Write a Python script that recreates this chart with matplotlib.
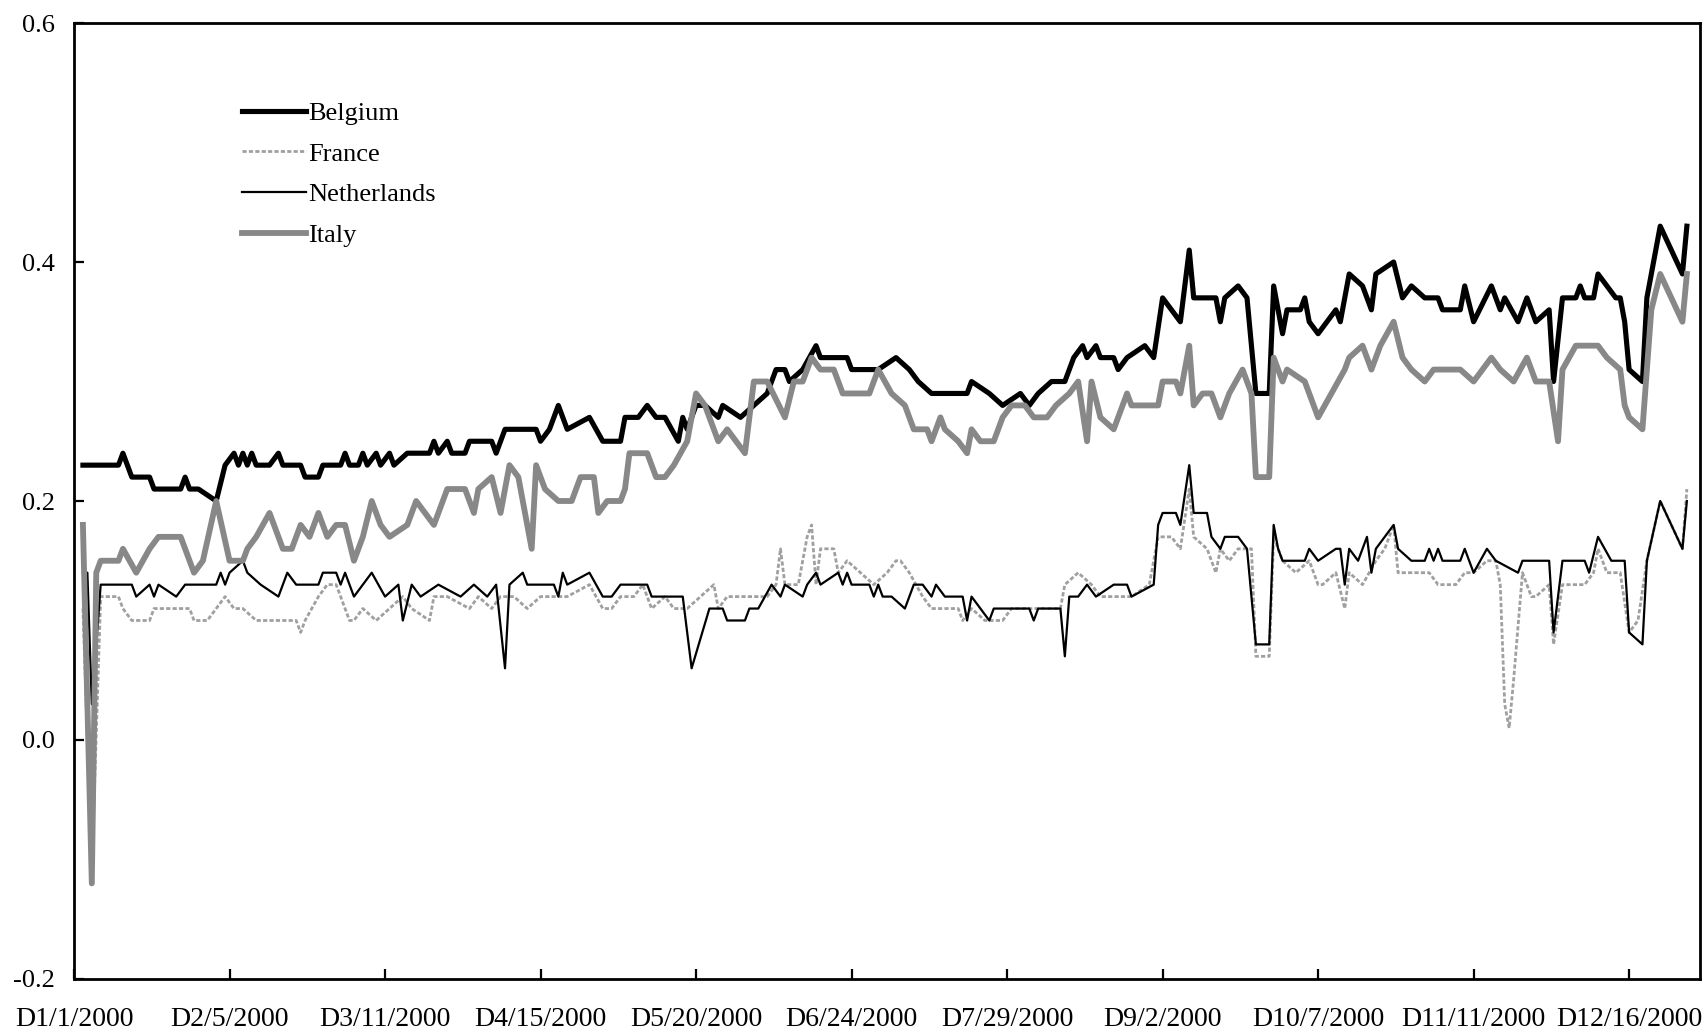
import numpy as np
import pandas as pd
import matplotlib
matplotlib.use('Agg')
import matplotlib.pyplot as plt

plt.rcParams['font.family'] = ['Liberation Serif', 'DejaVu Serif']

# day offsets from 1 Jan 2000 and values
be_day = [2, 10, 11, 13, 17, 18, 24, 25, 26, 28, 32, 34, 36, 37, 38, 39, 40, 41, 44, 46, 47, 51, 52, 55, 56, 60, 61, 62,
          64, 65, 66, 68, 69, 71, 72, 75, 80, 81, 82, 84, 85, 88, 89, 94, 95, 97, 104, 105, 107, 109, 111, 116, 119, 123, 124,
          127, 129, 131, 133, 136, 137, 138, 140, 142, 145, 146, 150, 153, 156, 158, 160, 161, 164, 167, 168, 174, 175, 181, 185,
          188, 190, 193, 201, 202, 206, 209, 213, 215, 217, 220, 223, 225, 227, 228, 230, 231, 234, 235, 237, 241, 243, 245, 247,
          249, 251, 252, 257, 258, 259, 262, 264, 266, 269, 270, 272, 273, 276, 277, 278, 280, 284, 285, 287, 290, 292, 293, 297,
          299, 301, 304, 307, 308, 312, 313, 315, 319, 321, 322, 325, 327, 329, 332, 333, 335, 338, 339, 340, 342, 343, 347, 348,
          349, 350, 353, 354, 357, 362, 363]
be_val = [0.23, 0.23, 0.24, 0.22, 0.22, 0.21, 0.21, 0.22, 0.21, 0.21, 0.20, 0.23, 0.24, 0.23, 0.24, 0.23, 0.24, 0.23, 0.23, 0.24, 0.23, 0.23, 0.22, 0.22, 0.23, 0.23, 0.24, 0.23,
          0.23, 0.24, 0.23, 0.24, 0.23, 0.24, 0.23, 0.24, 0.24, 0.25, 0.24, 0.25, 0.24, 0.24, 0.25, 0.25, 0.24, 0.26, 0.26, 0.25, 0.26, 0.28, 0.26, 0.27, 0.25, 0.25, 0.27,
          0.27, 0.28, 0.27, 0.27, 0.25, 0.27, 0.26, 0.28, 0.28, 0.27, 0.28, 0.27, 0.28, 0.29, 0.31, 0.31, 0.30, 0.31, 0.33, 0.32, 0.32, 0.31, 0.31, 0.32,
          0.31, 0.30, 0.29, 0.29, 0.30, 0.29, 0.28, 0.29, 0.28, 0.29, 0.30, 0.30, 0.32, 0.33, 0.32, 0.33, 0.32, 0.32, 0.31, 0.32, 0.33, 0.32, 0.37, 0.36,
          0.35, 0.41, 0.37, 0.37, 0.35, 0.37, 0.38, 0.37, 0.29, 0.29, 0.38, 0.34, 0.36, 0.36, 0.37, 0.35, 0.34, 0.36, 0.35, 0.39, 0.38, 0.36, 0.39, 0.40,
          0.37, 0.38, 0.37, 0.37, 0.36, 0.36, 0.38, 0.35, 0.38, 0.36, 0.37, 0.35, 0.37, 0.35, 0.36, 0.30, 0.37, 0.37, 0.38, 0.37, 0.37, 0.39, 0.37, 0.37,
          0.35, 0.31, 0.30, 0.37, 0.43, 0.39, 0.43]

fr_day = [2, 4, 6, 10, 11, 13, 17, 18, 26, 27, 30, 32, 34, 36, 38, 41, 50, 51, 52, 55, 57, 59, 60, 62, 63, 65, 68, 71, 74, 76,
          80, 81, 84, 89, 91, 94, 96, 99, 102, 105, 108, 111, 116, 119, 121, 123, 126, 128, 130, 133, 135, 138, 141, 144, 145, 147,
          156, 158, 159, 160, 163, 165, 166, 167, 168, 171, 172, 174, 177, 180, 183, 185, 186, 188, 191, 193, 199, 200, 202, 205,
          209, 211, 222, 223, 226, 229, 231, 238, 242, 244, 247, 249, 251, 252, 255, 257, 258, 260, 262, 265, 266, 269, 270, 272,
          275, 278, 280, 281, 284, 286, 287, 290, 293, 295, 297, 298, 302, 305, 307, 311, 313, 315, 318, 320, 321, 322, 323, 324,
          326, 328, 329, 332, 333, 335, 340, 342, 343, 345, 348, 350, 352, 354, 357, 362, 363]
fr_val = [0.11, -0.11, 0.12, 0.12, 0.11, 0.10, 0.10, 0.11, 0.11, 0.10, 0.10, 0.11, 0.12, 0.11, 0.11, 0.10, 0.10, 0.09, 0.10, 0.12, 0.13, 0.13, 0.12, 0.10, 0.10, 0.11, 0.10, 0.11, 0.12, 0.11,
          0.10, 0.12, 0.12, 0.11, 0.12, 0.11, 0.12, 0.12, 0.11, 0.12, 0.12, 0.12, 0.13, 0.11, 0.11, 0.12, 0.12, 0.13, 0.11, 0.12, 0.11, 0.11, 0.12, 0.13, 0.11, 0.12,
          0.12, 0.13, 0.16, 0.13, 0.13, 0.17, 0.18, 0.13, 0.16, 0.16, 0.14, 0.15, 0.14, 0.13, 0.14, 0.15, 0.15, 0.14, 0.12, 0.11, 0.11, 0.10, 0.11, 0.10,
          0.10, 0.11, 0.11, 0.13, 0.14, 0.13, 0.12, 0.12, 0.13, 0.17, 0.17, 0.16, 0.21, 0.17, 0.16, 0.14, 0.16, 0.15, 0.16, 0.16, 0.07, 0.07, 0.17, 0.15,
          0.14, 0.15, 0.13, 0.13, 0.14, 0.11, 0.14, 0.13, 0.15, 0.16, 0.18, 0.14, 0.14, 0.14, 0.13, 0.13, 0.14, 0.14, 0.15, 0.15, 0.13, 0.03, 0.01, 0.05,
          0.14, 0.12, 0.12, 0.13, 0.08, 0.13, 0.13, 0.14, 0.16, 0.14, 0.14, 0.09, 0.10, 0.15, 0.20, 0.16, 0.21]

nl_day = [2, 3, 4, 6, 13, 14, 17, 18, 19, 23, 25, 32, 33, 34, 35, 38, 39, 42, 46, 48, 50, 55, 56, 59, 60, 61, 63, 67, 70, 73,
          74, 76, 78, 82, 87, 90, 93, 95, 97, 98, 101, 102, 108, 109, 110, 111, 116, 119, 121, 123, 129, 130, 137, 139, 143, 146,
          147, 151, 152, 154, 157, 159, 160, 164, 165, 167, 168, 172, 173, 174, 175, 179, 180, 181, 182, 184, 187, 189, 191, 193,
          194, 196, 200, 201, 202, 204, 206, 207, 215, 216, 217, 222, 223, 224, 226, 228, 230, 234, 237, 238, 243, 244, 245, 248,
          249, 251, 252, 255, 256, 258, 259, 262, 264, 266, 269, 270, 271, 272, 277, 278, 280, 284, 285, 286, 287, 289, 291, 292,
          293, 297, 298, 301, 304, 305, 306, 307, 308, 312, 313, 315, 318, 320, 325, 326, 332, 333, 335, 340, 341, 343, 346, 349,
          350, 353, 354, 357, 362, 363]
nl_val = [0.14, 0.14, 0.03, 0.13, 0.13, 0.12, 0.13, 0.12, 0.13, 0.12, 0.13, 0.13, 0.14, 0.13, 0.14, 0.15, 0.14, 0.13, 0.12, 0.14, 0.13, 0.13, 0.14, 0.14, 0.13, 0.14, 0.12, 0.14, 0.12, 0.13,
          0.10, 0.13, 0.12, 0.13, 0.12, 0.13, 0.12, 0.13, 0.06, 0.13, 0.14, 0.13, 0.13, 0.12, 0.14, 0.13, 0.14, 0.12, 0.12, 0.13, 0.13, 0.12, 0.12, 0.06, 0.11, 0.11,
          0.10, 0.10, 0.11, 0.11, 0.13, 0.12, 0.13, 0.12, 0.13, 0.14, 0.13, 0.14, 0.13, 0.14, 0.13, 0.13, 0.12, 0.13, 0.12, 0.12, 0.11, 0.13, 0.13, 0.12,
          0.13, 0.12, 0.12, 0.10, 0.12, 0.11, 0.10, 0.11, 0.11, 0.10, 0.11, 0.11, 0.07, 0.12, 0.12, 0.13, 0.12, 0.13, 0.13, 0.12, 0.13, 0.18, 0.19, 0.19,
          0.18, 0.23, 0.19, 0.19, 0.17, 0.16, 0.17, 0.17, 0.16, 0.08, 0.08, 0.18, 0.16, 0.15, 0.15, 0.16, 0.15, 0.16, 0.16, 0.13, 0.16, 0.15, 0.17, 0.14,
          0.16, 0.18, 0.16, 0.15, 0.15, 0.16, 0.15, 0.16, 0.15, 0.15, 0.16, 0.14, 0.16, 0.15, 0.14, 0.15, 0.15, 0.09, 0.15, 0.15, 0.14, 0.17, 0.15, 0.15,
          0.09, 0.08, 0.15, 0.20, 0.16, 0.20]

it_day = [2, 4, 5, 6, 10, 11, 14, 17, 19, 24, 27, 29, 32, 35, 38, 39, 41, 44, 47, 49, 51, 53, 55, 57, 59, 61, 63, 65, 67, 69,
          71, 75, 77, 81, 84, 88, 90, 91, 94, 96, 98, 100, 103, 104, 106, 109, 112, 114, 117, 118, 120, 123, 124, 125, 129, 131,
          133, 135, 138, 140, 142, 145, 147, 151, 153, 156, 160, 162, 164, 166, 168, 171, 173, 179, 181, 184, 187, 189, 192, 193,
          195, 196, 199, 201, 202, 204, 207, 209, 211, 214, 216, 219, 221, 224, 226, 228, 229, 231, 234, 237, 238, 244, 245, 248,
          249, 251, 252, 254, 256, 258, 260, 263, 265, 266, 269, 270, 272, 273, 277, 280, 283, 286, 287, 290, 292, 294, 297, 299,
          301, 304, 306, 312, 315, 319, 321, 324, 327, 329, 332, 334, 335, 338, 341, 343, 345, 348, 349, 350, 353, 355, 357, 362, 363]
it_val = [0.18, -0.12, 0.14, 0.15, 0.15, 0.16, 0.14, 0.16, 0.17, 0.17, 0.14, 0.15, 0.20, 0.15, 0.15, 0.16, 0.17, 0.19, 0.16, 0.16, 0.18, 0.17, 0.19, 0.17, 0.18, 0.18, 0.15, 0.17, 0.20, 0.18,
          0.17, 0.18, 0.20, 0.18, 0.21, 0.21, 0.19, 0.21, 0.22, 0.19, 0.23, 0.22, 0.16, 0.23, 0.21, 0.20, 0.20, 0.22, 0.22, 0.19, 0.20, 0.20, 0.21, 0.24, 0.24, 0.22,
          0.22, 0.23, 0.25, 0.29, 0.28, 0.25, 0.26, 0.24, 0.30, 0.30, 0.27, 0.30, 0.30, 0.32, 0.31, 0.31, 0.29, 0.29, 0.31, 0.29, 0.28, 0.26, 0.26, 0.25,
          0.27, 0.26, 0.25, 0.24, 0.26, 0.25, 0.25, 0.27, 0.28, 0.28, 0.27, 0.27, 0.28, 0.29, 0.30, 0.25, 0.30, 0.27, 0.26, 0.29, 0.28, 0.28, 0.30, 0.30,
          0.29, 0.33, 0.28, 0.29, 0.29, 0.27, 0.29, 0.31, 0.29, 0.22, 0.22, 0.32, 0.30, 0.31, 0.30, 0.27, 0.29, 0.31, 0.32, 0.33, 0.31, 0.33, 0.35, 0.32,
          0.31, 0.30, 0.31, 0.31, 0.30, 0.32, 0.31, 0.30, 0.32, 0.30, 0.30, 0.25, 0.31, 0.33, 0.33, 0.33, 0.32, 0.31, 0.28, 0.27, 0.26, 0.36, 0.39, 0.35, 0.39]

tick_days = list(range(0, 351, 35))
tick_dates = pd.Timestamp('2000-01-01') + pd.to_timedelta(tick_days, unit='D')
tick_labels = ['D%d/%d/%d' % (t.month, t.day, t.year) for t in tick_dates]

fig = plt.figure(figsize=(17.06, 10.33), dpi=100)
ax = fig.add_axes([0.0434, 0.0523, 0.9532, 0.9254])

ax.plot(be_day, be_val, color='black', lw=3.7, label='Belgium')
ax.plot(fr_day, fr_val, color='#a0a0a0', lw=2.0, ls=(0, (1.5, 0.8)), label='France')
ax.plot(nl_day, nl_val, color='black', lw=1.6, label='Netherlands')
ax.plot(it_day, it_val, color='#888888', lw=4.2, label='Italy')

ax.set_xlim(0, 366)
ax.set_ylim(-0.2, 0.6)
ax.set_xticks(tick_days)
ax.set_xticklabels(tick_labels)
ax.set_yticks([-0.2, 0.0, 0.2, 0.4, 0.6])
ax.set_yticklabels(['-0.2', '0.0', '0.2', '0.4', '0.6'])
ax.tick_params(direction='in', length=7, width=1.6)
ax.tick_params(axis='x', pad=20, labelsize=20)
ax.tick_params(axis='y', pad=14, labelsize=19)
for s in ax.spines.values():
    s.set_linewidth(2.0)

ax.legend(loc='upper left', bbox_to_anchor=(0.1035, 0.918), frameon=False, fontsize=19,
          handlelength=2.4, handletextpad=0.1, labelspacing=0.65, borderpad=0, borderaxespad=0)

fig.savefig('out.png', dpi=100)
